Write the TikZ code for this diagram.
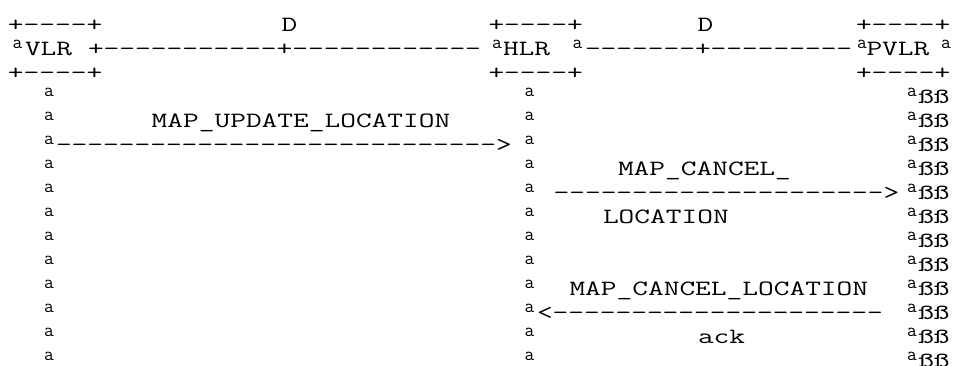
\documentclass[tikz,border=0pt]{standalone}
\usepackage{fontspec}
\newfontfamily\asciifont[FakeStretch=1.4,Ligatures=TeXOff]{Latin Modern Mono}
\newfontfamily\ordfont{Latin Modern Mono}

\begin{document}
\begin{tikzpicture}[x=1pt,y=-1pt,
  every node/.style={inner sep=0pt,outer sep=0pt},
  txt/.style={anchor=base west,xshift=-8pt,text depth=0pt,
    font=\asciifont\fontsize{21.8}{24}\selectfont},
  ord/.style={anchor=base,text depth=0pt,
    font=\ordfont\fontsize{19}{20}\selectfont}]
  \useasboundingbox (0,0) rectangle (953,365);

  % entity boxes
  \node[txt] (vlrTop) at (16,31.65) {+----+};
  \node[txt] (dLeft) at (289.5,31.65) {D};
  \node[txt] (hlrTop) at (496.5,31.65) {+----+};
  \node[txt] (dRight) at (705.5,31.65) {D};
  \node[txt] (pvlrTop) at (864,31.65) {+----+};

  \node[ord] (vlrOrd) at (17.5,48) {a};
  \node[txt] (vlr) at (33,55.65) {VLR};
  \node[txt] (trunkL) at (96,55.65) {+-----------+------------};
  \node[ord] (hlrOrdL) at (497,48) {a};
  \node[txt] (hlr) at (511,55.65) {HLR};
  \node[ord] (hlrOrdR) at (577.5,48) {a};
  \node[txt] (trunkR) at (593,55.65) {-------+---------};
  \node[ord] (pvlrOrdL) at (862,48) {a};
  \node[txt] (pvlr) at (874.5,55.65) {PVLR};
  \node[ord] (pvlrOrdR) at (946,48) {a};

  \node[txt] (vlrBot) at (16,79.65) {+----+};
  \node[txt] (hlrBot) at (496.5,79.65) {+----+};
  \node[txt] (pvlrBot) at (864,79.65) {+----+};

  % lifelines
  \foreach \k in {4,...,15} {
    \node[ord] (vlrLine\k) at (49,{24*\k}) {a};
    \node[ord] (hlrLine\k) at (529.5,{24*\k}) {a};
    \node[ord] (pvlrLine\k) at (912,{24*\k}) {a};
    \node[txt] (pvlrSs\k) at (926,{24*\k+7.65}) {ßß};
  }

  % messages
  \node[txt] (updMsg) at (159.7,127.65) {MAP\_UPDATE\_LOCATION};
  \node[txt] (updArrow) at (64,151.65) {---------------------------->};
  \node[txt] (cancelMsgA) at (626,175.65) {MAP\_CANCEL\_};
  \node[txt] (cancelArrow) at (561.6,199.65) {--------------------->};
  \node[txt] (cancelMsgB) at (611,223.65) {LOCATION};
  \node[txt] (ackMsgA) at (577.5,295.65) {MAP\_CANCEL\_LOCATION};
  \node[txt] (ackArrow) at (545,319.65) {<---------------------};
  \node[txt] (ackMsgB) at (706,343.65) {ack};
\end{tikzpicture}
\end{document}
